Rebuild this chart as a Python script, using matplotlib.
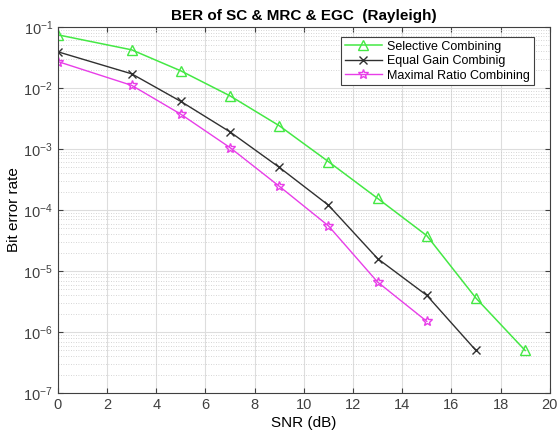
import matplotlib.pyplot as plt
from matplotlib.ticker import NullFormatter, FixedLocator
import numpy as np

plt.rcParams['font.family'] = ['Liberation Sans', 'DejaVu Sans']

# SNR points (dB) and BER for each combining scheme
snr_sc = [0, 3, 5, 7, 9, 11, 13, 15, 17, 19]
ber_sc = [0.074, 0.042, 0.019, 0.0074, 0.0024, 6.2e-4, 1.55e-4, 3.8e-5, 3.6e-6, 5e-7]

snr_egc = [0, 3, 5, 7, 9, 11, 13, 15, 17]
ber_egc = [0.039, 0.017, 0.006, 0.0019, 5e-4, 1.2e-4, 1.6e-5, 4e-6, 5e-7]

snr_mrc = [0, 3, 5, 7, 9, 11, 13, 15]
ber_mrc = [0.027, 0.011, 0.0037, 0.00105, 2.45e-4, 5.5e-5, 6.6e-6, 1.5e-6]

fig = plt.figure(figsize=(5.57, 4.33), dpi=100)
ax = fig.add_axes([0.104, 0.092, 0.883, 0.846])

ax.semilogy(snr_sc, ber_sc, color='#44e844', marker='^', mfc='none', ms=7, lw=1.1,
            label='Selective Combining')
ax.semilogy(snr_egc, ber_egc, color='#303030', marker='x', ms=6, lw=1.0,
            label='Equal Gain Combinig')
ax.semilogy(snr_mrc, ber_mrc, color='#e83ee8', marker='*', mfc='none', ms=7, lw=1.0,
            label='Maximal Ratio Combining')

ax.set_xlim(0, 20)
ax.set_ylim(1e-7, 1e-1)
ax.set_xticks(np.arange(0, 21, 2))
# only the decades inside the axis, minor lines at 2..9 of each decade
decades = 10.0 ** np.arange(-7, 0)
ax.set_yticks(decades)
ax.yaxis.set_minor_locator(FixedLocator((decades[:-1, None] * np.arange(2, 10)).ravel()))
ax.yaxis.set_minor_formatter(NullFormatter())
ax.grid(True, which='major', color='#dddddd', lw=0.8)
ax.grid(True, which='minor', color='#c8c8c8', ls=(0, (1, 2)), lw=0.6)
ax.tick_params(which='both', direction='in', top=True, right=True, labelsize=10.5,
               colors='#404040')
ax.tick_params(which='minor', length=0)
for s in ax.spines.values():
    s.set_color('#404040')

ax.set_xlabel('SNR (dB)', fontsize=11, labelpad=3)
ax.set_ylabel('Bit error rate', fontsize=11, labelpad=2)
ax.set_title('BER of SC & MRC & EGC  (Rayleigh)', fontsize=11, fontweight='bold', pad=5)

leg = ax.legend(loc='upper right', bbox_to_anchor=(0.98, 0.99), fontsize=9,
                fancybox=False, framealpha=1, edgecolor='#404040',
                borderpad=0.3, labelspacing=0.2, handlelength=3.0,
                handletextpad=0.4)
leg.get_frame().set_linewidth(0.8)

fig.savefig('out.png', dpi=100)
